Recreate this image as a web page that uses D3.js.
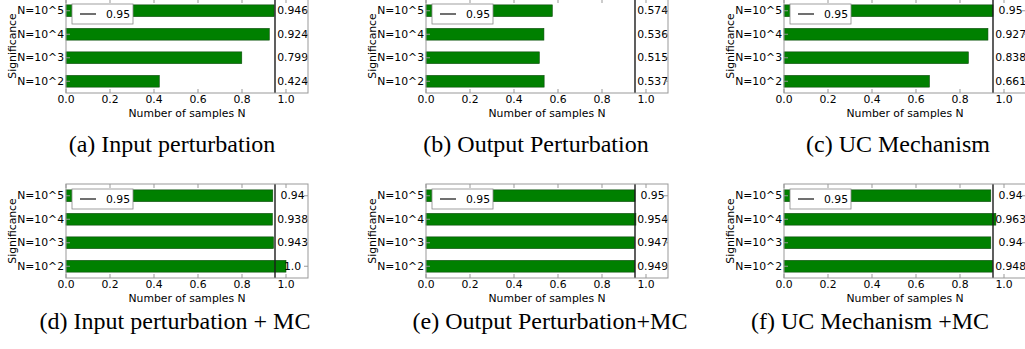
<!DOCTYPE html>
<html>
<head>
<meta charset="utf-8">
<script src="https://cdn.jsdelivr.net/npm/d3@7"></script>
<style>
  body { margin: 0; background: #fff; }
  svg { display: block; }
</style>
</head>
<body>
<svg id="chart" width="1025" height="349"></svg>
<script>
// categories from bottom to top, as pandas barh draws them
const categories = ["N=10^2", "N=10^3", "N=10^4", "N=10^5"];
const xTicks = [0.0, 0.2, 0.4, 0.6, 0.8, 1.0];
const threshold = 0.95;

const inputPert = [0.424, 0.799, 0.924, 0.946];
const outputPert = [0.537, 0.515, 0.536, 0.574];
const ucMech = [0.661, 0.838, 0.927, 0.95];
const inputPertMC = [1.0, 0.943, 0.938, 0.94];
const outputPertMC = [0.949, 0.947, 0.954, 0.95];
const ucMechMC = [0.948, 0.94, 0.963, 0.94];

const captions = [
  "(a) Input perturbation", "(b) Output Perturbation", "(c) UC Mechanism",
  "(d) Input perturbation + MC", "(e) Output Perturbation+MC", "(f) UC Mechanism +MC"
];
const series = [inputPert, outputPert, ucMech, inputPertMC, outputPertMC, ucMechMC];

const svg = d3.select("#chart");
const W = 242, H = 94;
const colLeft = [66, 426, 784];
const rowTop = [-1, 184];
const captionBase = [152, 329];
const captionShift = [[106, 110, 114], [109, 124, 86]];
const font = "DejaVu Sans, sans-serif";
const fmt = (v) => (Number.isInteger(v) ? v.toFixed(1) : String(v));

series.forEach((values, i) => {
  const row = Math.floor(i / 3), col = i % 3;
  const left = colLeft[col], top = rowTop[row];
  const g = svg.append("g").attr("transform", `translate(${left},${top})`);

  const x = d3.scaleLinear().domain([0, 1.1]).range([0, W]);
  const y = d3.scaleBand().domain(categories.slice().reverse()).range([0, H]).paddingInner(0.5).paddingOuter(0.25);

  g.append("rect").attr("width", W).attr("height", H).attr("fill", "#fff");

  g.selectAll("rect.bar").data(values).join("rect").attr("class", "bar")
    .attr("x", x(0)).attr("y", (d, k) => y(categories[k]))
    .attr("width", (d) => x(d) - x(0)).attr("height", y.bandwidth())
    .attr("fill", "#008000").attr("stroke", "#0a4a0a").attr("stroke-width", 0.6);

  // threshold line
  g.append("line").attr("x1", x(threshold)).attr("x2", x(threshold)).attr("y1", 0).attr("y2", H)
    .attr("stroke", "#1a1a1a").attr("stroke-width", 1.4);

  // value labels
  g.selectAll("text.val").data(values).join("text").attr("class", "val")
    .attr("x", x(1.03)).attr("y", (d, k) => y(categories[k]) + y.bandwidth() / 2)
    .attr("text-anchor", "middle").attr("dominant-baseline", "central")
    .attr("font-family", font).attr("font-size", 10.8).attr("fill", "#000").text(fmt);

  // frame and inward ticks
  g.append("rect").attr("width", W).attr("height", H).attr("fill", "none").attr("stroke", "#999").attr("stroke-width", 1);
  xTicks.forEach((t) => {
    g.append("line").attr("x1", x(t)).attr("x2", x(t)).attr("y1", H).attr("y2", H - 4).attr("stroke", "#999");
    g.append("line").attr("x1", x(t)).attr("x2", x(t)).attr("y1", 0).attr("y2", 4).attr("stroke", "#999");
  });
  categories.forEach((c) => {
    const cy = y(c) + y.bandwidth() / 2;
    g.append("line").attr("x1", 0).attr("x2", 4).attr("y1", cy).attr("y2", cy).attr("stroke", "#999");
    g.append("line").attr("x1", W).attr("x2", W - 4).attr("y1", cy).attr("y2", cy).attr("stroke", "#999");
  });

  // tick labels
  g.selectAll("text.xt").data(xTicks).join("text").attr("class", "xt")
    .attr("x", (d) => x(d)).attr("y", H + 2).attr("text-anchor", "middle").attr("dominant-baseline", "hanging")
    .attr("font-family", font).attr("font-size", 10.8).text((d) => d.toFixed(1));
  g.selectAll("text.yt").data(categories).join("text").attr("class", "yt")
    .attr("x", -2).attr("y", (d) => y(d) + y.bandwidth() / 2).attr("text-anchor", "end").attr("dominant-baseline", "central")
    .attr("font-family", font).attr("font-size", 10.8).text((d) => d);

  // axis titles
  g.append("text").attr("x", W / 2).attr("y", H + 20).attr("text-anchor", "middle").attr("dominant-baseline", "central")
    .attr("font-family", font).attr("font-size", 10.8).text("Number of samples N");
  g.append("text").attr("transform", `translate(-54,${H / 2}) rotate(-90)`).attr("text-anchor", "middle").attr("dominant-baseline", "central")
    .attr("font-family", font).attr("font-size", 10.8).text("Significance");

  // legend
  const lg = g.append("g").attr("transform", "translate(6,5)");
  lg.append("rect").attr("width", 61).attr("height", 20).attr("fill", "#fff").attr("stroke", "#888").attr("stroke-width", 0.8);
  lg.append("line").attr("x1", 8).attr("x2", 24).attr("y1", 10).attr("y2", 10).attr("stroke", "#333").attr("stroke-width", 1.4);
  lg.append("text").attr("x", 34).attr("y", 10).attr("dominant-baseline", "central")
    .attr("font-family", font).attr("font-size", 10.8).text(String(threshold));

  // caption
  svg.append("text").attr("x", left + captionShift[row][col]).attr("y", captionBase[row])
    .attr("text-anchor", "middle").attr("font-family", "Liberation Serif, Times New Roman, serif")
    .attr("font-size", 24).attr("fill", "#000").text(captions[i]);
});
</script>
</body>
</html>
